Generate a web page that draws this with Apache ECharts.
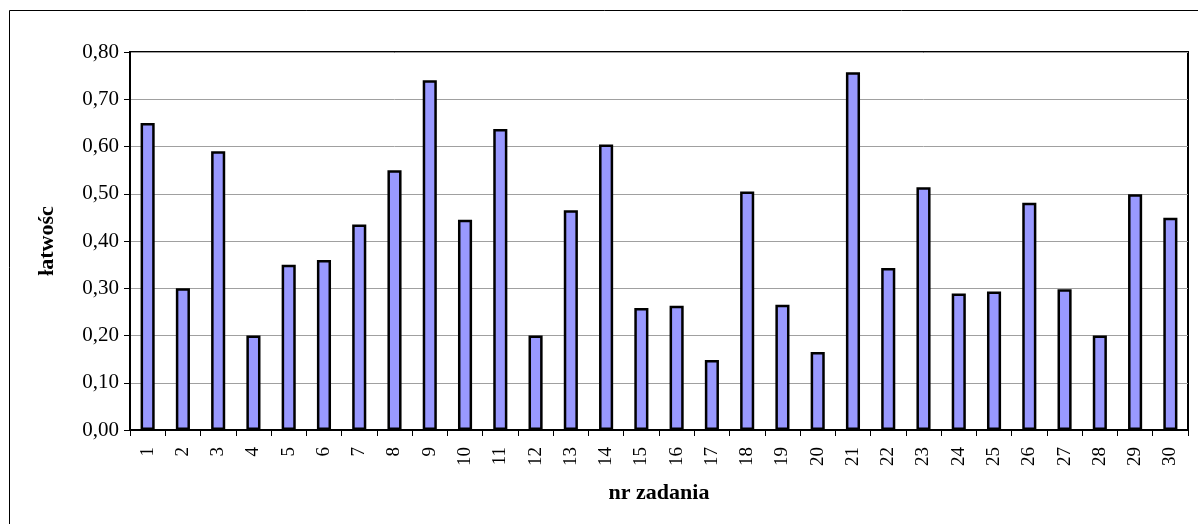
<!DOCTYPE html>
<html>
<head>
<meta charset="utf-8">
<script src="https://cdn.jsdelivr.net/npm/echarts@6/dist/echarts.min.js"></script>
<style>
	html,body{margin:0;padding:0;background:#fff;}
	#main{width:1198px;height:524px;}
</style>
</head>
<body>
<div id="main"></div>
<script>
	var zadania = ['1','2','3','4','5','6','7','8','9','10','11','12','13','14','15','16','17','18','19','20','21','22','23','24','25','26','27','28','29','30'];
	var latwosc = [0.65,0.30,0.59,0.20,0.35,0.36,0.435,0.55,0.74,0.445,0.637,0.20,0.465,0.604,0.258,0.263,0.148,0.505,0.265,0.165,0.757,0.343,0.514,0.289,0.293,0.481,0.298,0.20,0.499,0.449];
	var yMin = 0, yMax = 0.8, yStep = 0.1;

	var fontSerif = '"Liberation Serif","Times New Roman",serif';
	var myChart = echarts.init(document.getElementById('main'));
	var option = {
		backgroundColor:'#fff',
		animation:false,
		graphic:[{
			type:'rect',
			shape:{x:9.5,y:10.5,width:1200,height:600},
			style:{fill:'none',stroke:'#000',lineWidth:1}
		}],
		grid:{
			left:130,
			right:10,
			top:52,
			bottom:94,
			show:true,
			borderColor:'#000',
			borderWidth:2
		},
		xAxis:{
			type:'category',
			data:zadania,
			name:'nr zadania',
			nameLocation:'middle',
			nameGap:52,
			nameTextStyle:{fontFamily:fontSerif,fontSize:22,fontWeight:'bold',color:'#000'},
			axisLine:{lineStyle:{color:'#000',width:2}},
			axisTick:{show:true,alignWithLabel:false,length:6,lineStyle:{color:'#000',width:1}},
			axisLabel:{rotate:90,fontFamily:fontSerif,fontSize:19,color:'#000',margin:17}
		},
		yAxis:{
			type:'value',
			min:yMin,
			max:yMax,
			interval:yStep,
			name:'łatwośc',
			nameLocation:'middle',
			nameGap:72,
			nameTextStyle:{fontFamily:fontSerif,fontSize:22,fontWeight:'bold',color:'#000'},
			axisLine:{show:true,lineStyle:{color:'#000',width:2}},
			axisTick:{show:true,length:6,lineStyle:{color:'#000',width:1}},
			axisLabel:{
				fontFamily:fontSerif,fontSize:21,color:'#000',margin:11,
				formatter:function(v){return v.toFixed(2).replace('.',',');}
			},
			splitLine:{lineStyle:{color:'#a0a0a0',width:1}}
		},
		series:[{
			type:'bar',
			data:latwosc,
			barWidth:'40%',
			itemStyle:{color:'#9999ff',borderColor:'#000',borderWidth:2.5}
		}]
	};
	myChart.setOption(option);
</script>
</body>
</html>
